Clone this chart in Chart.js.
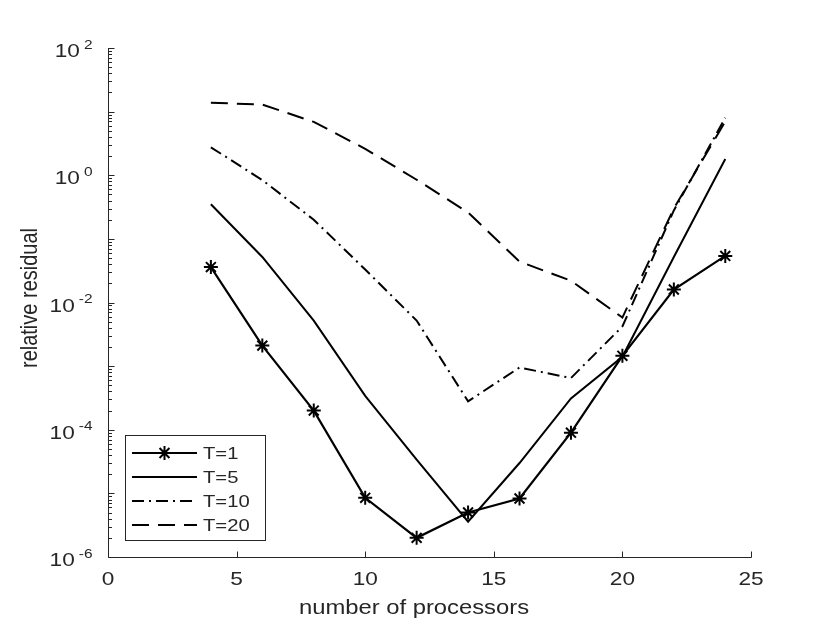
<!DOCTYPE html>
<html lang="en">

<head>
  <meta charset="UTF-8">
  <title>Relative residual</title>
  <script src="https://cdn.jsdelivr.net/npm/chart.js"></script>
  <style>
    body { margin: 0; background: #fff; }
  </style>
</head>

<body>
  <canvas id="residualChart" width="830" height="626"></canvas>
  <script>
    // data
    var processors = [4, 6, 8, 10, 12, 14, 16, 18, 20, 22, 24];
    var resT1 = [0.036, 0.0021, 2.0e-4, 8.5e-6, 2.0e-6, 5.0e-6, 8.3e-6, 9.0e-5, 1.45e-3, 0.016, 0.054];
    var resT5 = [0.35, 0.052, 0.0052, 3.4e-4, 3.4e-5, 3.6e-6, 3.0e-5, 3.1e-4, 1.4e-3, 0.052, 1.8];
    var resT10 = [2.75, 0.84, 0.2, 0.033, 0.0052, 2.8e-4, 9.5e-4, 6.5e-4, 0.0042, 0.28, 8.0];
    var resT20 = [13.8, 12.9, 6.9, 2.6, 0.85, 0.26, 0.044, 0.022, 0.0058, 0.3, 7.0];
    var seriesNames = ['T=1', 'T=5', 'T=10', 'T=20'];
    var xTicks = [0, 5, 10, 15, 20, 25];
    var yExponents = [-6, -4, -2, 0, 2];

    var TEXT = '#262626';
    var SX = 1.19; // the figure text is a bit wider than plain Liberation Sans
    var FONT = '"Liberation Sans", Arial, sans-serif';

    function toPoints(values) {
      return values.map(function (v, i) {
        return { x: processors[i], y: v };
      });
    }

    function wideText(ctx, text, x, y, align, size) {
      ctx.save();
      ctx.translate(x, y);
      ctx.scale(SX, 1);
      ctx.font = size + 'px ' + FONT;
      ctx.textAlign = align;
      ctx.textBaseline = 'middle';
      ctx.fillText(text, 0, 0);
      ctx.restore();
    }

    var matlabAxes = {
      id: 'matlabAxes',
      afterDraw: function (chart) {
        var ctx = chart.ctx;
        var area = chart.chartArea;
        var xs = chart.scales.x;
        var ys = chart.scales.y;
        var left = Math.round(area.left) + 0.5;
        var bottom = Math.round(area.bottom) + 0.5;

        ctx.save();
        ctx.strokeStyle = TEXT;
        ctx.fillStyle = TEXT;
        ctx.lineWidth = 1;

        // axis lines (box off)
        ctx.beginPath();
        ctx.moveTo(left, Math.round(area.top));
        ctx.lineTo(left, bottom);
        ctx.lineTo(Math.round(area.right) + 0.5, bottom);
        ctx.stroke();

        // y ticks, pointing inward
        ctx.beginPath();
        for (var e = -6; e <= 2; e++) {
          for (var m = 1; m <= 9; m++) {
            if (e === 2 && m > 1) break;
            var py = Math.round(ys.getPixelForValue(m * Math.pow(10, e))) + 0.5;
            var len = (m === 1) ? 6 : 3.5;
            ctx.moveTo(left, py);
            ctx.lineTo(left + len, py);
          }
        }
        // x ticks
        xTicks.forEach(function (t) {
          var px = Math.round(xs.getPixelForValue(t)) + 0.5;
          ctx.moveTo(px, bottom);
          ctx.lineTo(px, bottom - 6);
        });
        ctx.stroke();

        // x tick labels
        xTicks.forEach(function (t) {
          wideText(ctx, String(t), xs.getPixelForValue(t), bottom + 22, 'center', 19);
        });

        // y tick labels: 10 with a raised exponent
        yExponents.forEach(function (p) {
          var py = ys.getPixelForValue(Math.pow(10, p));
          var expText = p < 0 ? '-' + Math.abs(p) : String(p);
          ctx.font = '13px ' + FONT;
          var expW = ctx.measureText(expText).width * SX;
          var right = left - 16;
          wideText(ctx, expText, right, py - 3, 'right', 13);
          wideText(ctx, '10', right - expW - 4, py + 4, 'right', 19);
        });

        // axis titles
        wideText(ctx, 'number of processors', 414, bottom + 51, 'center', 20);
        ctx.save();
        ctx.translate(30, 298);
        ctx.scale(SX, 1);
        ctx.rotate(-Math.PI / 2);
        ctx.font = '20px ' + FONT;
        ctx.textAlign = 'center';
        ctx.textBaseline = 'middle';
        ctx.fillText('relative residual', 0, 0);
        ctx.restore();

        // legend box, lower left inside the axes
        var bx = 125.5, by = 435.5, bw = 140, bh = 105;
        ctx.fillStyle = '#fff';
        ctx.fillRect(bx, by, bw, bh);
        ctx.strokeStyle = TEXT;
        ctx.lineWidth = 1;
        ctx.strokeRect(bx, by, bw, bh);

        chart.data.datasets.forEach(function (ds, i) {
          var ry = 453 + i * 24;
          ctx.save();
          ctx.strokeStyle = '#000';
          ctx.lineWidth = ds.borderWidth;
          ctx.setLineDash(ds.borderDash || []);
          ctx.beginPath();
          ctx.moveTo(132, ry);
          ctx.lineTo(197, ry);
          ctx.stroke();
          ctx.restore();
          if (ds.pointRadius > 0) {
            ctx.save();
            ctx.strokeStyle = '#000';
            ctx.lineWidth = ds.pointBorderWidth;
            Chart.helpers.drawPoint(ctx, {
              pointStyle: ds.pointStyle,
              radius: ds.pointRadius,
              borderWidth: ds.pointBorderWidth,
              rotation: 0
            }, 164.5, ry);
            ctx.restore();
          }
          ctx.fillStyle = TEXT;
          wideText(ctx, seriesNames[i], 203, ry + 1, 'left', 17);
        });

        ctx.restore();
      }
    };

    function lineSet(label, values, dash, width, markers) {
      return {
        label: label,
        data: toPoints(values),
        borderColor: '#000',
        backgroundColor: '#000',
        borderWidth: width,
        borderDash: dash,
        tension: 0,
        fill: false,
        pointStyle: 'star',
        pointRadius: markers ? 7 : 0,
        pointBorderWidth: 2,
        pointBorderColor: '#000',
        pointHoverRadius: markers ? 7 : 0
      };
    }

    new Chart(document.getElementById('residualChart'), {
      type: 'line',
      data: {
        datasets: [
          lineSet(seriesNames[0], resT1, [], 2.2, true),
          lineSet(seriesNames[1], resT5, [], 2, false),
          lineSet(seriesNames[2], resT10, [12, 5, 2, 5], 2, false),
          lineSet(seriesNames[3], resT20, [17, 9], 2, false)
        ]
      },
      options: {
        responsive: false,
        animation: false,
        devicePixelRatio: 1,
        layout: { padding: { left: 108, right: 79, top: 48, bottom: 69 } },
        plugins: {
          legend: { display: false },
          tooltip: { enabled: false }
        },
        scales: {
          x: {
            type: 'linear',
            min: 0,
            max: 25,
            grid: { display: false },
            border: { display: false },
            ticks: { display: false },
            afterFit: function (s) { s.height = 0; }
          },
          y: {
            type: 'logarithmic',
            min: 1e-6,
            max: 100,
            grid: { display: false },
            border: { display: false },
            ticks: { display: false },
            afterFit: function (s) { s.width = 0; }
          }
        }
      },
      plugins: [matlabAxes]
    });
  </script>
</body>

</html>
